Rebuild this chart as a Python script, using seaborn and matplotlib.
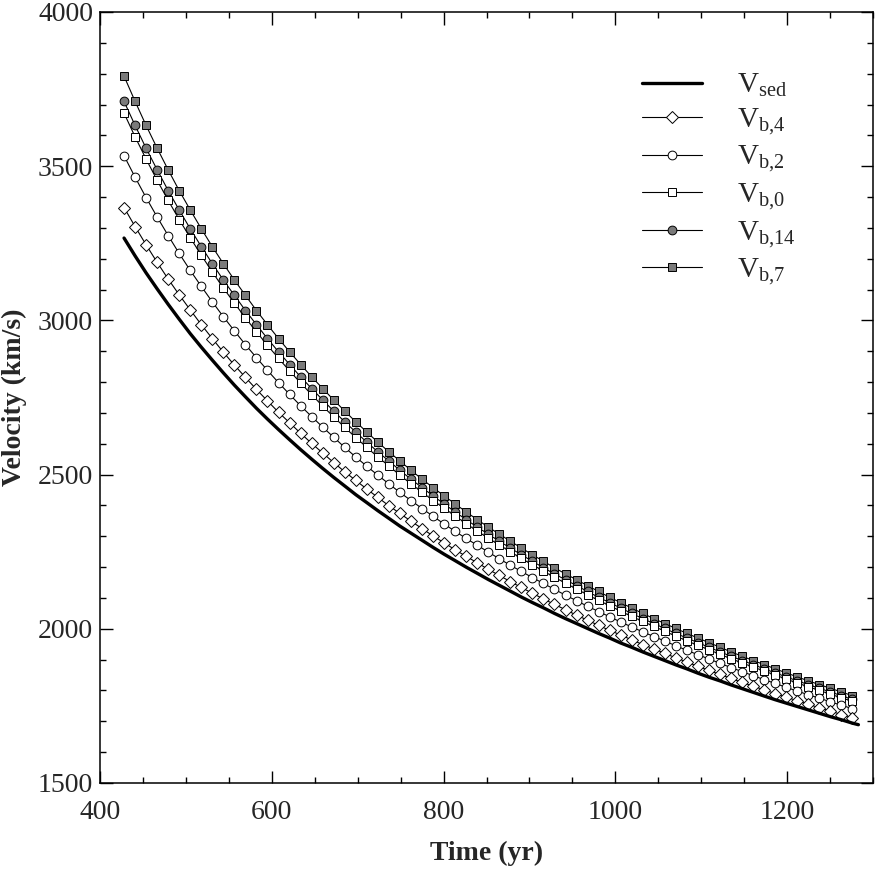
import numpy as np
import pandas as pd
import matplotlib
matplotlib.use("Agg")
import matplotlib.pyplot as plt
from matplotlib.ticker import MultipleLocator
import seaborn as sns

# Time of the marker points (yr)
time_yr = [428.0, 440.9, 453.7, 466.6, 479.4, 492.2, 505.1, 518.0, 530.8, 543.6, 556.5, 569.4, 582.2, 595.0,
           607.9, 620.8, 633.6, 646.5, 659.3, 672.1, 685.0, 697.8, 710.7, 723.5, 736.4, 749.2, 762.1, 775.0,
           787.8, 800.6, 813.5, 826.3, 839.2, 852.0, 864.9, 877.8, 890.6, 903.5, 916.3, 929.1, 942.0, 954.9,
           967.7, 980.5, 993.4, 1006.2, 1019.1, 1031.9, 1044.8, 1057.7, 1070.5, 1083.4, 1096.2, 1109.1, 1122.0,
           1134.8, 1147.7, 1160.5, 1173.3, 1186.2, 1199.0, 1211.9, 1224.8, 1237.6, 1250.5, 1263.3, 1276.1]
time_sed = time_yr + [1283.0]

v_sed = [3267, 3209, 3154, 3102, 3052, 3004, 2957, 2913, 2871, 2830, 2790, 2752, 2715, 2680, 2646, 2613, 2581,
         2550, 2520, 2491, 2463, 2435, 2409, 2383, 2358, 2333, 2310, 2287, 2264, 2242, 2221, 2200, 2180, 2160,
         2141, 2122, 2103, 2085, 2068, 2050, 2033, 2017, 2001, 1985, 1970, 1954, 1940, 1925, 1911, 1897, 1883,
         1870, 1856, 1843, 1831, 1818, 1806, 1794, 1782, 1770, 1759, 1748, 1737, 1726, 1715, 1705, 1694, 1689]
v_b4 = [3366, 3304, 3245, 3188, 3134, 3083, 3034, 2986, 2941, 2897, 2855, 2815, 2776, 2739, 2702, 2668, 2634,
        2601, 2570, 2539, 2509, 2481, 2453, 2426, 2399, 2374, 2349, 2325, 2301, 2279, 2256, 2235, 2214, 2193,
        2173, 2153, 2134, 2115, 2097, 2079, 2062, 2044, 2028, 2011, 1995, 1980, 1964, 1949, 1935, 1920, 1906,
        1892, 1878, 1865, 1852, 1839, 1826, 1814, 1802, 1790, 1778, 1767, 1755, 1744, 1733, 1722, 1712]
v_b2 = [3534, 3464, 3398, 3335, 3275, 3217, 3162, 3110, 3060, 3012, 2966, 2921, 2879, 2838, 2798, 2760, 2723,
        2688, 2654, 2621, 2588, 2557, 2527, 2498, 2470, 2442, 2416, 2390, 2365, 2340, 2316, 2293, 2271, 2249,
        2227, 2206, 2186, 2166, 2147, 2128, 2109, 2091, 2073, 2056, 2039, 2022, 2006, 1990, 1975, 1960, 1945,
        1930, 1916, 1902, 1888, 1874, 1861, 1848, 1835, 1823, 1810, 1798, 1786, 1775, 1763, 1752, 1741]
v_b0 = [3672, 3595, 3523, 3454, 3389, 3327, 3268, 3211, 3157, 3105, 3056, 3008, 2963, 2919, 2877, 2836, 2797,
        2759, 2722, 2687, 2653, 2620, 2588, 2557, 2528, 2498, 2470, 2443, 2416, 2391, 2366, 2341, 2317, 2294,
        2272, 2250, 2228, 2208, 2187, 2167, 2148, 2129, 2110, 2092, 2075, 2057, 2040, 2024, 2008, 1992, 1976,
        1961, 1946, 1932, 1917, 1903, 1889, 1876, 1863, 1850, 1837, 1824, 1812, 1800, 1788, 1776, 1765]
v_b14 = [3710, 3632, 3558, 3488, 3421, 3358, 3297, 3239, 3184, 3131, 3081, 3032, 2986, 2941, 2898, 2857, 2817,
         2779, 2742, 2706, 2671, 2638, 2605, 2574, 2544, 2514, 2485, 2458, 2431, 2405, 2379, 2354, 2330, 2307,
         2284, 2262, 2240, 2219, 2198, 2178, 2159, 2140, 2121, 2102, 2085, 2067, 2050, 2033, 2017, 2001, 1985,
         1970, 1955, 1940, 1925, 1911, 1897, 1884, 1870, 1857, 1844, 1831, 1819, 1807, 1795, 1783, 1771]
v_b7 = [3792, 3710, 3632, 3558, 3488, 3421, 3358, 3297, 3239, 3184, 3131, 3081, 3032, 2986, 2941, 2898, 2857,
        2817, 2779, 2742, 2706, 2671, 2638, 2605, 2574, 2544, 2514, 2485, 2458, 2431, 2405, 2379, 2354, 2330,
        2307, 2284, 2262, 2240, 2219, 2198, 2178, 2159, 2140, 2121, 2102, 2085, 2067, 2050, 2033, 2017, 2001,
        1985, 1970, 1955, 1940, 1925, 1911, 1897, 1884, 1870, 1857, 1844, 1831, 1819, 1807, 1795, 1783]

labels = {
    "sed": r'V$_{\mathrm{sed}}$',
    "b4": r'V$_{\mathrm{b{,}4}}$',
    "b2": r'V$_{\mathrm{b{,}2}}$',
    "b0": r'V$_{\mathrm{b{,}0}}$',
    "b14": r'V$_{\mathrm{b{,}14}}$',
    "b7": r'V$_{\mathrm{b{,}7}}$',
}

sns.set_style("ticks")
plt.rcParams['font.family'] = ['Liberation Serif', 'DejaVu Serif']
plt.rcParams['mathtext.fontset'] = 'custom'
plt.rcParams['mathtext.rm'] = 'Liberation Serif'
plt.rcParams['mathtext.it'] = 'Liberation Serif:italic'
plt.rcParams['mathtext.bf'] = 'Liberation Serif:bold'

fig = plt.figure(figsize=(8.86, 8.86), dpi=100)
ax = fig.add_axes([100/886, 1-783/886, 773/886, 771/886])
gray = '#7a7a7a'

marker_series = [
    (v_b7, 's', gray, labels["b7"], 6.3),
    (v_b14, 'o', gray, labels["b14"], 6.3),
    (v_b0, 's', 'white', labels["b0"], 6.3),
    (v_b2, 'o', 'white', labels["b2"], 6.3),
    (v_b4, 'D', 'white', labels["b4"], 5.8),
]
for i, (vals, m, fc, lab, ms) in enumerate(marker_series):
    df = pd.DataFrame({"t": time_yr, "v": vals})
    sns.lineplot(data=df, x="t", y="v", ax=ax, color='black', lw=0.8, marker=m, markersize=ms,
                 markerfacecolor=fc, markeredgecolor='black', markeredgewidth=0.7, label=lab, zorder=2+i)
df_sed = pd.DataFrame({"t": time_sed, "v": v_sed})
sns.lineplot(data=df_sed, x="t", y="v", ax=ax, color='black', lw=2.4, label=labels["sed"], zorder=10)

ax.set_xlim(400, 1300)
ax.set_ylim(1500, 4000)
ax.xaxis.set_major_locator(MultipleLocator(200))
ax.xaxis.set_minor_locator(MultipleLocator(50))
ax.yaxis.set_major_locator(MultipleLocator(500))
ax.yaxis.set_minor_locator(MultipleLocator(100))
ax.tick_params(which='both', direction='in', top=True, right=True, labelsize=20, width=1.0, color='black')
ax.tick_params(which='major', length=9)
ax.tick_params(which='minor', length=4.5)
ax.tick_params(axis='x', which='major', pad=12)
ax.tick_params(axis='y', which='major', pad=5)
for s in ax.spines.values():
    s.set_linewidth(1.1)
    s.set_color('black')
ax.set_xlabel('Time (yr)', fontsize=20, fontweight='bold', labelpad=12)
ax.set_ylabel('Velocity (km/s)', fontsize=20, fontweight='bold', labelpad=8)

h, l = ax.get_legend_handles_labels()
order = [5, 4, 3, 2, 1, 0]
ax.legend([h[i] for i in order], [l[i] for i in order], loc='upper left',
          bbox_to_anchor=(642/886, 1-72/886), bbox_transform=fig.transFigure,
          frameon=False, fontsize=21, handlelength=2.05, handletextpad=1.2,
          labelspacing=0.24, borderpad=0, borderaxespad=0)
plt.savefig("out.png", dpi=100)
